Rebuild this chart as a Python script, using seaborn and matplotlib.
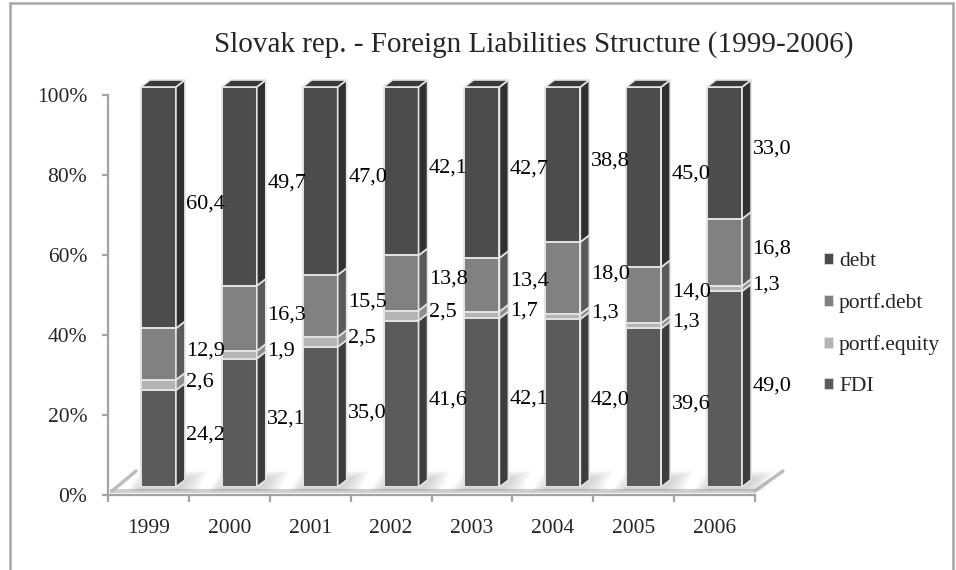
import matplotlib
matplotlib.use("Agg")
import matplotlib.pyplot as plt
import numpy as np
import pandas as pd
import seaborn as sns
from matplotlib.patches import Polygon, Rectangle, Patch

# ---- data -------------------------------------------------------------
years = ["1999", "2000", "2001", "2002", "2003", "2004", "2005", "2006"]
fdi = [24.2, 32.1, 35.0, 41.6, 42.1, 42.0, 39.6, 49.0]
portf_equity = [2.6, 1.9, 2.5, 2.5, 1.7, 1.3, 1.3, 1.3]
portf_debt = [12.9, 16.3, 15.5, 13.8, 13.4, 18.0, 14.0, 16.8]
debt = [60.4, 49.7, 47.0, 42.1, 42.7, 38.8, 45.0, 33.0]
series_names = ["FDI", "portf.equity", "portf.debt", "debt"]
y_ticks = [0, 20, 40, 60, 80, 100]
title = "Slovak rep. - Foreign Liabilities Structure (1999-2006)"

df = pd.DataFrame({"year": years, "FDI": fdi, "portf.equity": portf_equity,
                   "portf.debt": portf_debt, "debt": debt})
totals = df[series_names].sum(axis=1)
shares = df[series_names].div(totals, axis=0) * 100   # 100 % stacked
cum = shares.cumsum(axis=1)

# ---- style ------------------------------------------------------------
sns.set_theme(style="white")
plt.rcParams["font.family"] = ["Liberation Serif", "DejaVu Serif"]

front = {"FDI": "#5b5b5b", "portf.equity": "#b4b4b4",
         "portf.debt": "#818181", "debt": "#4c4c4c"}
side = {"FDI": "#3d3d3d", "portf.equity": "#8e8e8e",
        "portf.debt": "#5a5a5a", "debt": "#303030"}
top_col = "#3a3a3a"
edge_col = "#e4e4e4"
axis_col = "#a3a3a3"

W, H, DPI = 956, 570, 100
fig = plt.figure(figsize=(W / DPI, H / DPI), dpi=DPI)
fig.patch.set_facecolor("white")


def fx(px):
    return px / W


def fy(py):
    return 1 - py / H


# axis frame (pixels of the plot box)
L, R, T, B = 108, 755, 95, 495
n = len(years)
px_x = (R - L) / n          # pixels per category
px_y = (B - T) / 100        # pixels per percent

ax = fig.add_axes([fx(L), fy(B), (R - L) / W, (B - T) / H])
ax.set_xlim(-0.5, n - 0.5)
ax.set_ylim(0, 100)

# bars sit a little back on the floor
shift_x, shift_y = 10, 8
ax2 = fig.add_axes([fx(L + shift_x), fy(B - shift_y), (R - L) / W, (B - T) / H])

# ---- floor ------------------------------------------------------------
fl_y = 4 / px_y
dep_x, dep_y = 28 / px_x, 20 / px_y
floor = Polygon([(-0.5 + 2 / px_x, fl_y), (n - 0.5, fl_y),
                 (n - 0.5 + dep_x, fl_y + dep_y), (-0.5 + dep_x, fl_y + dep_y)],
                closed=True, fc="white", ec="none", clip_on=False, zorder=1)
ax.add_patch(floor)
ax.plot([-0.5 + 2 / px_x, n - 0.5], [fl_y, fl_y], color="#cfcfcf", lw=3,
        solid_capstyle="butt", clip_on=False, zorder=2)
ax.plot([n - 0.5, n - 0.5 + dep_x], [fl_y, fl_y + dep_y], color="#bdbdbd", lw=2.5,
        clip_on=False, zorder=2)
ax.plot([-0.5 + 4 / px_x, -0.5 + dep_x], [fl_y, fl_y + dep_y], color="#bdbdbd", lw=2.5,
        clip_on=False, zorder=2)

# ---- bars -------------------------------------------------------------
bw = 35 / px_x
bdx, bdy = 9 / px_x, 7 / px_y

# soft floor shadows under each bar
for i in range(n):
    x0, x1 = i - bw / 2, i + bw / 2
    for e in np.linspace(0.28, 0.04, 7):
        ax2.add_patch(Polygon([(x0 - e * 0.6, -1.0), (x1 + e, -1.0),
                               (x1 + bdx + e, bdy + e * 8), (x0 + bdx - e * 0.4, bdy + e * 8)],
                              closed=True, fc="#9a9a9a", ec="none", alpha=0.07,
                              clip_on=False, zorder=0.5))

# front faces: overlapping cumulative bars, tallest first
for k in reversed(range(len(series_names))):
    name = series_names[k]
    sns.barplot(x=df["year"], y=cum[name], color=front[name], width=bw,
                saturation=1, edgecolor=edge_col, linewidth=1.4, ax=ax2,
                zorder=3)

# side faces and top caps
for i in range(n):
    x1 = i + bw / 2
    lo = 0.0
    for name in series_names:
        hi = cum[name].iloc[i]
        ax2.add_patch(Polygon([(x1, lo), (x1 + bdx, lo + bdy), (x1 + bdx, hi + bdy), (x1, hi)],
                              closed=True, fc=side[name], ec=edge_col, lw=1.2,
                              clip_on=False, zorder=3))
        lo = hi
    x0 = i - bw / 2
    ax2.add_patch(Polygon([(x0, 100), (x1, 100), (x1 + bdx, 100 + bdy), (x0 + bdx, 100 + bdy)],
                          closed=True, fc=top_col, ec=edge_col, lw=1.2,
                          clip_on=False, zorder=3))

# value labels beside each segment
for i in range(n):
    lo = 0.0
    for name in series_names:
        hi = cum[name].iloc[i]
        val = df[name].iloc[i]
        ax2.text(i + bw / 2 + bdx + 1.5 / px_x, (lo + hi) / 2 + bdy / 2,
                 f"{val:.1f}".replace(".", ","), ha="left", va="center",
                 fontsize=16, color="black", zorder=5, clip_on=False)
        lo = hi

ax2.set_xlim(-0.5, n - 0.5)
ax2.set_ylim(0, 100)
ax2.axis("off")

# ---- axes styling -----------------------------------------------------
for s in ["top", "right"]:
    ax.spines[s].set_visible(False)
for s in ["left", "bottom"]:
    ax.spines[s].set_color(axis_col)
    ax.spines[s].set_linewidth(1.6)
ax.set_facecolor("none")
ax.set_yticks(y_ticks)
ax.set_yticklabels([f"{v}%" for v in y_ticks], fontsize=15.5)
ax.tick_params(axis="y", direction="out", length=4, width=1.6, color=axis_col,
               pad=11, left=True)
ax.set_xticks(range(n))
ax.set_xticklabels(years, fontsize=15.5)
ax.set_xticks(np.arange(-0.5, n), minor=True)
ax.tick_params(axis="x", which="major", length=0, pad=17)
ax.tick_params(axis="x", which="minor", direction="out", length=5, width=1.6,
               color=axis_col, bottom=True)
ax.grid(False)

# ---- title, legend, frame ---------------------------------------------
fig.text(fx(534), fy(45), title, ha="center", va="center", fontsize=21)

handles = [Patch(fc=front[nm], ec=edge_col, lw=0.5) for nm in reversed(series_names)]
fig.legend(handles, list(reversed(series_names)), loc="upper left",
           bbox_to_anchor=(fx(824), fy(252)), bbox_transform=fig.transFigure,
           frameon=False, fontsize=15.5, handlelength=0.4, handleheight=0.4,
           handletextpad=0.3, labelspacing=1.03, borderpad=0, borderaxespad=0)

fig.add_artist(Rectangle((fx(10), -0.02), fx(953) - fx(10), fy(3) + 0.02,
                         transform=fig.transFigure, fill=False, ec="#a6a6a6", lw=1.8))

fig.savefig("out.png", dpi=DPI)
